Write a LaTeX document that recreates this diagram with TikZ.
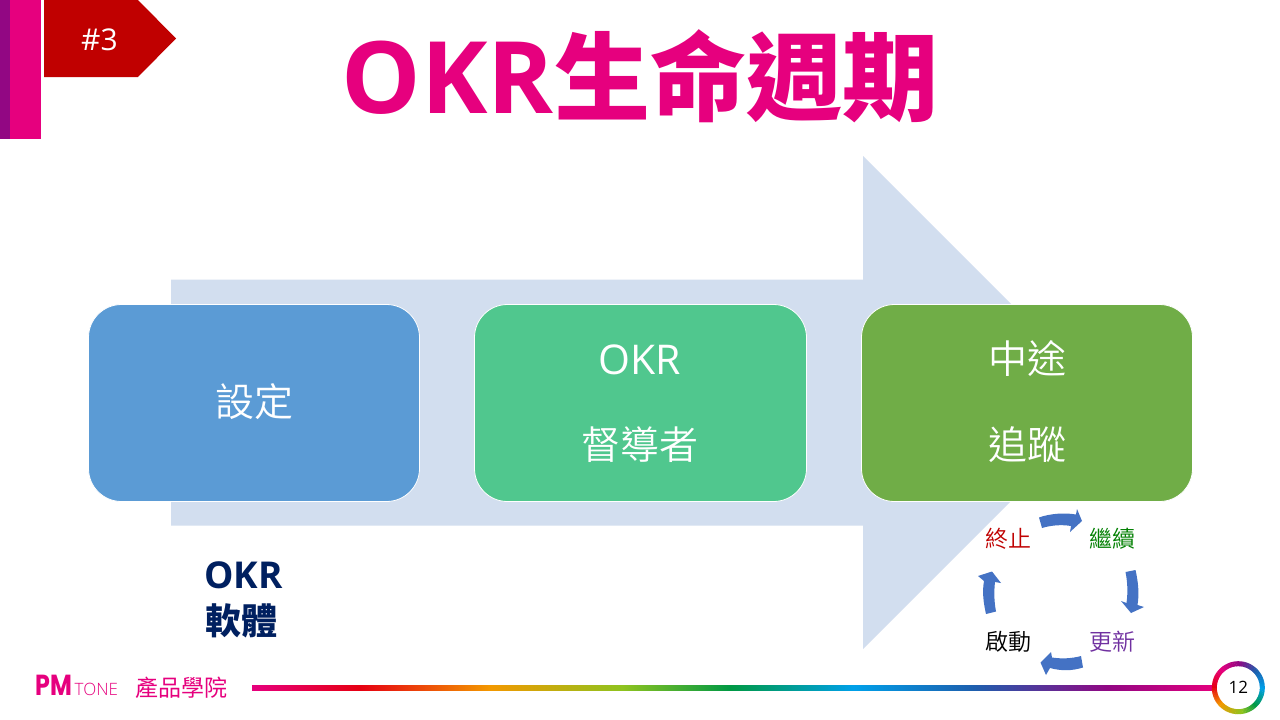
\documentclass[tikz,border=0pt]{standalone}
\usepackage{fontspec}
\setmainfont{Open Sans}
\newfontfamily\cjk{Noto Sans CJK TC}
\newfontfamily\cjklight{Noto Sans CJK TC DemiLight}
\newfontfamily\latinf{Open Sans}
\newfontfamily\latinlight{Open Sans Light}
\newfontfamily\logof{Poppins}
\definecolor{pinkm}{HTML}{E6007E}
\definecolor{purplem}{HTML}{920783}
\definecolor{redm}{HTML}{C00000}
\definecolor{armblue}{HTML}{D2DEEF}
\definecolor{boxa}{HTML}{5B9BD5}
\definecolor{boxb}{HTML}{50C78E}
\definecolor{boxc}{HTML}{70AD47}
\definecolor{navy}{HTML}{002060}
\definecolor{cyclegreen}{HTML}{008000}
\definecolor{cyclepurple}{HTML}{7030A0}
\definecolor{cycleblue}{HTML}{4472C4}
\definecolor{rbred}{HTML}{E60012}
\definecolor{rborange}{HTML}{F39800}
\definecolor{rbyellow}{HTML}{8FC31F}
\definecolor{rbgreen}{HTML}{009944}
\definecolor{rbcyan}{HTML}{00A0E9}
\definecolor{rbblue}{HTML}{1D5FAE}
\pgfdeclarehorizontalshading{rainbowline}{100bp}{
 color(0bp)=(pinkm); color(25bp)=(pinkm); color(30.6bp)=(rbred); color(37.3bp)=(rborange); color(44.2bp)=(rbyellow);
 color(49.8bp)=(rbgreen); color(56.2bp)=(rbcyan); color(62.4bp)=(rbblue); color(69.4bp)=(purplem); color(75bp)=(pinkm); color(100bp)=(pinkm)}
\tikzset{
 card/.style={draw=white,line width=0.8pt,rounded corners=33pt,text=white},
 cardtext/.style={text=white,font=\cjklight\fontsize{39}{39}\selectfont,inner sep=0pt,anchor=center},
 cyc/.style={font=\cjklight\fontsize{23}{23}\selectfont,inner sep=0pt,anchor=center},
 cycarrow/.style={fill=cycleblue,draw=none},
}
\begin{document}
\begin{tikzpicture}[x=1pt,y=-1pt]
\useasboundingbox (0,0) rectangle (1280,720);
\fill[white] (0,0) rectangle (1280,720);
% corner tabs
\fill[purplem] (0,0) rectangle (10,139);
\fill[pinkm] (10,0) rectangle (41,139);
\fill[redm] (44,0) -- (138,0) -- (176,38.5) -- (138,77) -- (44,77) -- cycle;
\node[text=white,inner sep=0pt,font=\latinf\fontsize{30}{30}\selectfont] (tag) at (99.5,40) {\#3};
% title
\node[text=pinkm,inner sep=0pt,anchor=center] (title) at (640,76)
 {{\fontsize{100}{100}\selectfont\latinf\bfseries OKR}{\fontsize{96}{96}\selectfont\cjk\bfseries 生命週期}};
% big arrow
\fill[armblue] (171,279.5) -- (863,279.5) -- (863,156) -- (1109.5,402.5) -- (863,649) -- (863,525.5) -- (171,525.5) -- cycle;
% cards
\path[card,fill=boxa] (88.5,304.5) rectangle (419.5,501.5);
\path[card,fill=boxb] (474.5,304.5) rectangle (806.5,501.5);
\path[card,fill=boxc] (861.5,304.5) rectangle (1192.5,501.5);
\node[cardtext] (a1) at (254,402) {設定};
\node[cardtext,font=\latinf\fontsize{41}{41}\selectfont] (b1) at (640,360) {OKR};
\node[cardtext] (b2) at (640,445) {督導者};
\node[cardtext] (c1) at (1027,359) {中途};
\node[cardtext] (c2) at (1027,445) {追蹤};
% software label
\node[text=navy,inner sep=0pt,anchor=west,font=\latinf\bfseries\fontsize{37}{37}\selectfont] (s1) at (204,575.5) {OKR};
\node[text=navy,inner sep=0pt,anchor=west,font=\cjk\bfseries\fontsize{36}{36}\selectfont] (s2) at (205,621) {軟體};
% cycle
\node[cyc,text=redm] (n1) at (1008,539) {終止};
\node[cyc,text=cyclegreen] (n2) at (1112,539) {繼續};
\node[cyc,text=cyclepurple] (n3) at (1112,642) {更新};
\node[cyc,text=black] (n4) at (1008,642) {啟動};
\path[cycarrow] (1039,517.5) .. controls (1050,513.5) and (1065,512.5) .. (1076,514.5) -- (1077,509) -- (1082,521) -- (1070,532) -- (1071,526) .. controls (1062,524.5) and (1052,525) .. (1042,528) -- cycle;
\path[cycarrow] (1125.5,572) -- (1135.5,570) .. controls (1138,581) and (1139.5,593) .. (1137.5,605) -- (1144,607) -- (1131,613) -- (1121,601) -- (1126.5,603) .. controls (1128,592) and (1127.5,582) .. (1125.5,572) -- cycle;
\path[cycarrow] (1081,656) -- (1083,667.5) .. controls (1072,671) and (1061,671) .. (1050,668) -- (1046,675) -- (1040.5,662.5) -- (1051,652) -- (1052,657.5) .. controls (1062,659) and (1072,658.5) .. (1081,656) -- cycle;
\path[cycarrow] (986,614) -- (996,611.5) .. controls (994,601) and (994,591) .. (995,582) -- (1001,583) -- (992,571.5) -- (978,576) -- (984,581) .. controls (982,592) and (983.5,603) .. (986,614) -- cycle;
% footer
\node[text=pinkm,inner sep=0pt,anchor=west,xscale=0.82,font=\logof\bfseries\fontsize{29}{29}\selectfont] (pm) at (35.5,685.5) {PM};
\node[text=pinkm,inner sep=0pt,anchor=west,font=\latinlight\fontsize{17}{17}\selectfont] (tone) at (74.5,689) {TONE};
\node[text=pinkm,inner sep=0pt,anchor=west,font=\cjk\fontsize{23}{23}\selectfont] (brand) at (135.5,687.5) {產品學院};
\shade[shading=rainbowline] (252,685) rectangle (1216,690.6);
\node[circle,fill=white,inner sep=0pt,minimum size=46pt,font=\latinf\fontsize{17}{17}\selectfont] (page) at (1238.3,687.7) {12};
\foreach \s/\e/\ca/\cb in {90/45/purplem/rbblue,45/0/rbblue/rbcyan,0/-45/rbcyan/rbgreen,-45/-80/rbgreen/rbyellow,-80/-135/rbyellow/rborange,-135/-180/rborange/rbred,-180/-225/rbred/pinkm,-225/-270/pinkm/purplem}{
 \foreach \t in {0,...,9}{
  \pgfmathtruncatemacro\p{100-10*\t}
  \pgfmathsetmacro\aa{\s+(\e-\s)*(\t-0.1)/10}
  \pgfmathsetmacro\ab{\s+(\e-\s)*(\t+1.1)/10}
  \draw[color=\ca!\p!\cb,line width=5pt] ({1238.3+24*cos(\aa)},{687.7-24*sin(\aa)}) arc[start angle=-\aa,end angle=-\ab,radius=24];
 }
}
\end{tikzpicture}
\end{document}
